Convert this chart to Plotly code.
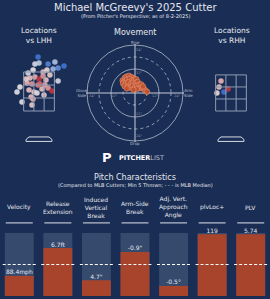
import plotly.graph_objects as go

W, H = 270, 299
BG = "#1a2d54"
TXT = "#e4e7ee"
GRID = "#8f9bb3"
ORANGE = "#a8442c"
BARBG = "#364a6e"

# ---------------- data ----------------
lhh_x = [-0.05, 0.49, 1.03, 1.35, 0.86, -0.22, 0.0, 0.76, 0.22, -0.59, -0.32, 0.43, -0.49,
         -0.22, 0.0, 0.22, 0.38, 0.59, -0.65, -0.38, -0.05, 0.32, 0.49, 0.70, -0.54, -0.27,
         -0.11, 0.16, -0.43, -0.32, -1.19, -1.03, -0.92, -0.38, 1.03, -0.70, 0.27, 0.05]
lhh_z = [4.27, 3.91, 3.71, 3.81, 4.01, 3.91, 3.96, 3.65, 3.50, 3.45, 3.60, 3.60, 3.19,
         3.24, 3.14, 3.29, 3.09, 3.35, 2.94, 2.88, 2.83, 2.83, 2.68, 2.53, 2.58, 2.47,
         2.42, 2.63, 2.22, 2.12, 2.47, 2.73, 1.96, 1.81, 3.04, 3.14, 2.32, 2.88]
lhh_val = [-0.9, -0.8, -0.7, -0.9, -0.3, -0.1, -0.2, -0.4, 0.3, -0.1, 0.0, 0.1, 0.3,
           0.4, 0.9, 0.5, 0.3, 0.2, 0.4, 0.5, 0.6, 0.4, 0.5, 0.9, 0.3, 0.2,
           -0.05, 0.3, 0.3, 0.4, -0.05, 0.0, -0.05, 0.2, -0.1, 0.2, 0.2, 0.7]

rhh_x = [-0.54, -0.65, -0.76, -0.38, -0.16]
rhh_z = [3.04, 2.73, 2.42, 2.47, 2.63]
rhh_val = [0.4, 0.3, 0.1, -0.9, 0.9]

mov_hb = [-6.2, -5.1, -4.3, -3.0, -1.8, -0.7, -5.4, -4.0, -2.6, -1.5, -0.4, 0.6, -6.0, -4.7,
          -3.3, -2.2, -1.0, 0.2, 1.3, -5.2, -3.6, -2.4, -1.2, 0.0, 1.1, 2.2, 3.1, 2.4, 3.4,
          4.3, 5.2, 6.0, 4.0, -4.1, 0.9, -0.8]
mov_ivb = [6.3, 7.6, 8.2, 8.6, 8.0, 7.4, 5.6, 6.8, 7.1, 6.2, 6.7, 6.9, 4.8, 4.6,
           5.3, 4.4, 5.2, 4.7, 5.6, 3.4, 3.1, 2.7, 3.6, 2.9, 3.7, 4.1, 4.3, 2.4, 2.6,
           2.1, 1.3, 0.6, 3.3, 2.3, 2.0, 1.6]

metrics = ["Velocity", "Release<br>Extension", "Induced<br>Vertical<br>Break", "Arm-Side<br>Break",
           "Adj. Vert.<br>Approach<br>Angle", "plvLoc+", "PLV"]
value_labels = ["88.4mph", "6.7ft", "4.7\"", "-0.9\"", "-0.5°", "119", "5.74"]
percentiles = [32, 76, 25, 70, 16, 98, 98]
mlb_median = 50

# ---------------- helpers ----------------
def px(x):
    return x / W

def py(y):
    return 1 - y / H

FONT = "DejaVu Sans"
cscale = [[0, "#2f68cc"], [0.35, "#a9bfe3"], [0.5, "#e6e2e4"], [0.7, "#e6b0ae"], [1, "#b51f2a"]]

fig = go.Figure()

# locations
fig.add_trace(go.Scatter(x=lhh_x, y=lhh_z, mode="markers", xaxis="x", yaxis="y",
                         marker=dict(size=5.5, color=lhh_val, colorscale=cscale, cmin=-1, cmax=1,
                                     opacity=0.92, line=dict(width=0)), hoverinfo="skip"))
fig.add_trace(go.Scatter(x=rhh_x, y=rhh_z, mode="markers", xaxis="x2", yaxis="y2",
                         marker=dict(size=5.5, color=rhh_val, colorscale=cscale, cmin=-1, cmax=1,
                                     opacity=0.92, line=dict(width=0)), hoverinfo="skip"))
# movement
fig.add_trace(go.Scatter(x=mov_hb, y=mov_ivb, mode="markers", xaxis="x3", yaxis="y3",
                         marker=dict(size=5.5, color="#c1532f", opacity=0.95,
                                     line=dict(width=0.6, color="#e79a7c")), hoverinfo="skip"))

# bars
n = len(metrics)
idx = list(range(n))
fig.add_trace(go.Bar(x=idx, y=[100] * n, width=0.75, marker=dict(color=BARBG, line=dict(width=0)),
                     xaxis="x4", yaxis="y4", hoverinfo="skip"))
fig.add_trace(go.Bar(x=idx, y=percentiles, width=0.75, marker=dict(color=ORANGE, line=dict(width=0)),
                     xaxis="x4", yaxis="y4", hoverinfo="skip"))
# median dashes
mx, my = [], []
for i in idx:
    mx += [i - 0.43, i + 0.43, None]
    my += [mlb_median, mlb_median, None]
fig.add_trace(go.Scatter(x=mx, y=my, mode="lines", xaxis="x4", yaxis="y4",
                         line=dict(color="white", width=1, dash="3px,2px"), hoverinfo="skip"))
# header underlines
ux, uy = [], []
for i in idx:
    ux += [i - 0.35, i + 0.35, None]
    uy += [116, 116, None]
fig.add_trace(go.Scatter(x=ux, y=uy, mode="lines", xaxis="x4", yaxis="y4",
                         line=dict(color="#dfe3ea", width=1), hoverinfo="skip"))
# value labels
fig.add_trace(go.Scatter(x=idx, y=percentiles, mode="text", text=value_labels, textposition="top center",
                         textfont=dict(size=6, color=TXT, family=FONT), xaxis="x4", yaxis="y4",
                         cliponaxis=False, hoverinfo="skip"))

shapes = []
# strike zones
def zone(xr, yr, top):
    bot = 1.5
    xs = [-0.83, -0.83 / 3, 0.83 / 3, 0.83]
    ys = [bot + (top - bot) * k / 3 for k in range(4)]
    for xv in xs:
        shapes.append(dict(type="line", xref=xr, yref=yr, x0=xv, x1=xv, y0=bot, y1=top,
                           line=dict(color=GRID, width=1)))
    for yv in ys:
        shapes.append(dict(type="line", xref=xr, yref=yr, x0=-0.83, x1=0.83, y0=yv, y1=yv,
                           line=dict(color=GRID, width=1)))
    shapes.append(dict(type="path", xref=xr, yref=yr,
                       path="M -0.70 -0.06 L -0.70 0.04 L -0.54 0.17 L 0.54 0.17 L 0.70 0.04 L 0.70 -0.06 Z",
                       line=dict(color="#d8dce4", width=1)))

zone("x", "y", 3.5)
zone("x2", "y2", 3.35)

# movement rings
for r, dash in [(24, "solid"), (18, "dot"), (12, "solid"), (6, "dot")]:
    shapes.append(dict(type="circle", xref="x3", yref="y3", x0=-r, x1=r, y0=-r, y1=r,
                       line=dict(color="#b3bccd", width=0.8, dash=dash), layer="below"))
shapes.append(dict(type="line", xref="x3", yref="y3", x0=-24.5, x1=24.5, y0=0, y1=0,
                   line=dict(color="#c7cdd9", width=1), layer="below"))
shapes.append(dict(type="line", xref="x3", yref="y3", x0=0, x1=0, y0=-24.5, y1=24.5,
                   line=dict(color="#c7cdd9", width=1), layer="below"))

ann = []
def A(text, x, y, size, color=TXT, xref="paper", yref="paper", **kw):
    d = dict(text=text, x=x, y=y, xref=xref, yref=yref, showarrow=False,
             font=dict(size=size, color=color, family=FONT), xanchor="center", yanchor="middle")
    d.update(kw)
    ann.append(d)

A("Michael McGreevy's 2025 Cutter", 0.5, py(7.5), 10)
A("(From Pitcher's Perspective; as of 8-2-2025)", 0.5, py(16.5), 5)
A("Locations<br>vs LHH", px(38.5), py(35.5), 7.5)
A("Movement", px(135), py(32.5), 8)
A("Locations<br>vs RHH", px(231.5), py(35.5), 7.5)
A("Rise", px(135), py(42.5), 4, "#b8bfcc")
A("Drop", px(135), py(143.5), 4, "#b8bfcc")
A("Glove<br>Side", px(82), py(93), 4, "#b8bfcc")
A("Arm<br>Side", px(188.5), py(93), 4, "#b8bfcc")
gl = "#8e98ab"
for (tx, ty, t) in [(1.8, 21.5, '24"'), (1.8, 10, '12"'), (1.8, -10.5, '12"'), (1.8, -21.5, '24"'),
                    (-21.5, -1.6, '24"'), (-10.5, -1.6, '12"'), (10, -1.6, '12"'), (21, -1.6, '24"')]:
    A(t, tx, ty, 3.5, gl, xref="x3", yref="y3")

# logo
A("<b>P</b>", px(106.5), py(157.5), 13, "white")
A("<b>PITCHER</b><span style='color:#b9bfca'>LIST</span>", px(141.5), py(158), 6.5, "white")

A("Pitch Characteristics", 0.5, py(177), 8)
A("(Compared to MLB Cutters; Min 5 Thrown; - - - is MLB Median)", 0.5, py(185.5), 5)
for i, m in enumerate(metrics):
    A(m, i, 140.5, 6, TXT, xref="x4", yref="y4")

ax_hidden = dict(visible=False, fixedrange=True, showgrid=False, zeroline=False)
sx = 35 / 18.5
layout = dict(
    width=W, height=H, margin=dict(l=0, r=0, t=0, b=0),
    paper_bgcolor=BG, plot_bgcolor=BG, showlegend=False, barmode="overlay",
    xaxis=dict(domain=[px(4), px(74)], range=[-sx, sx], **ax_hidden),
    yaxis=dict(domain=[py(146), py(48)], range=[1.5 - 35 / 19.5, 1.5 + 63 / 19.5], **ax_hidden),
    xaxis2=dict(domain=[px(196), px(266)], range=[-sx, sx], **ax_hidden),
    yaxis2=dict(domain=[py(146), py(48)], range=[1.5 - 35 / 19.5, 1.5 + 63 / 19.5], **ax_hidden),
    xaxis3=dict(domain=[px(80), px(190)], range=[-27.5, 27.5], **ax_hidden),
    yaxis3=dict(domain=[py(146), py(40)], range=[-26.5, 26.5], **ax_hidden),
    xaxis4=dict(domain=[0, 1], range=[-0.5, 6.5], **ax_hidden),
    yaxis4=dict(domain=[py(296), py(196)], range=[0, 100 * 100 / 63], **ax_hidden),
    shapes=shapes, annotations=ann,
)
fig.update_layout(**layout)
fig.write_html("out.html", config={"displayModeBar": False})
